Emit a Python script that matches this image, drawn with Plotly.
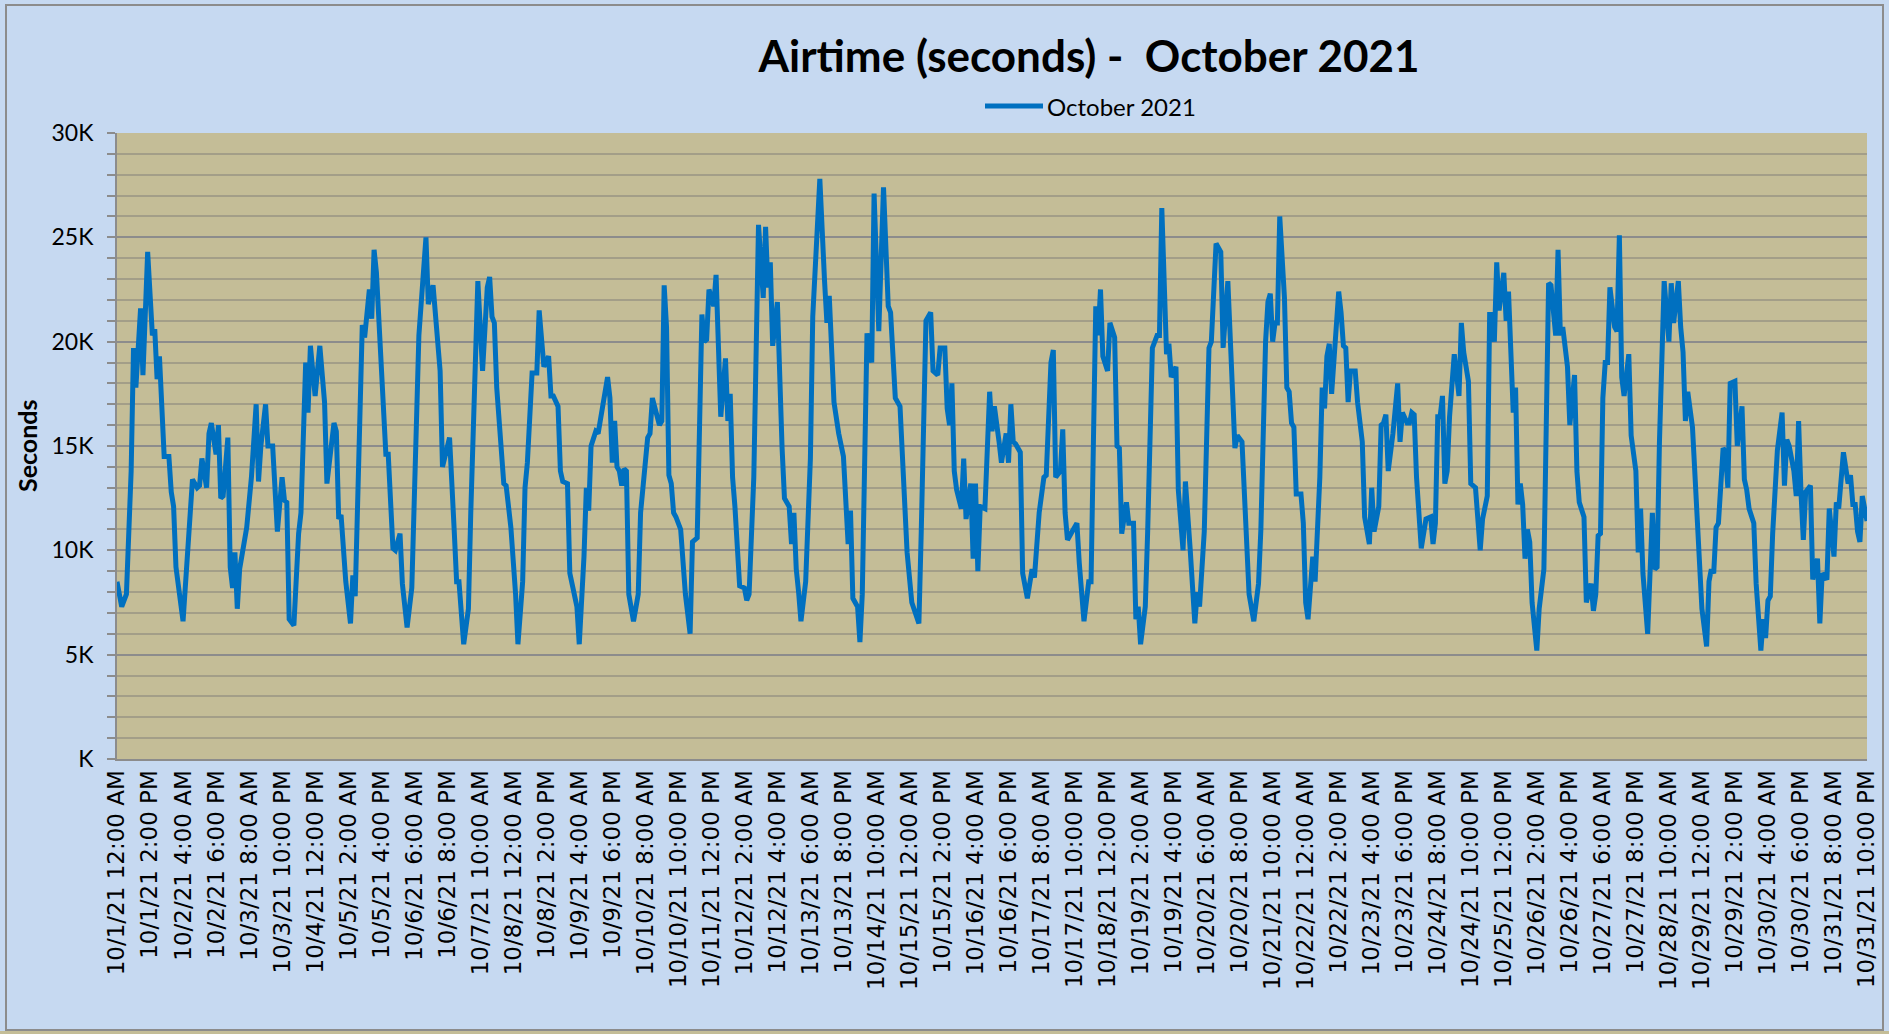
import plotly.graph_objects as go

# ---------------- data (hour offset from 10/1/21 12:00 AM, airtime in thousands of seconds) ----------------
hours = [
    0, 2, 4, 6, 7, 8, 10, 11, 13, 15, 16, 17, 18, 20, 22, 23,                       # 10/1
    24, 25, 28, 30, 32, 34, 35, 36, 38, 39, 40, 42, 43, 44, 45, 47,                 # 10/2
    48, 49, 50, 51, 52, 55, 57, 59, 60, 61, 63, 64, 66, 68, 70, 71,                 # 10/3
    72, 73, 75, 77, 78, 80, 81, 82, 84, 86, 88, 89, 90, 92, 93, 94, 95,             # 10/4
    97, 99, 100, 101, 104, 105, 107, 108, 109, 110, 114, 115, 117, 118,             # 10/5
    120, 121, 123, 125, 128, 131, 132, 134, 137, 138, 141, 143,                     # 10/6
    144, 145, 147, 149, 150, 153, 155, 157, 158, 159, 160, 161, 162, 163, 164, 165, 166, 167,  # 10/7
    169, 170, 172, 173, 174, 175, 176, 178, 179, 181, 183, 184, 185, 187, 188, 189, 191,       # 10/8
    192, 195, 196, 198, 199, 200, 201, 203, 204, 206, 208, 209, 210, 211, 212, 213, 214, 215,  # 10/9
    216, 217, 219, 221, 222, 225, 226, 227, 229, 230, 231, 232, 233, 234, 235, 236, 237, 239,  # 10/10
    241, 243, 244, 246, 248, 249, 250, 251, 253, 254, 256, 258, 259, 260, 261, 262,            # 10/11
    264, 266, 267, 268, 270, 272, 274, 275, 276, 277, 278, 280, 282, 283, 285, 286, 287,       # 10/12
    288, 289, 290, 292, 294, 295, 297, 298, 300, 301, 302, 304, 306, 308, 310, 311,            # 10/13
    312, 314, 315, 316, 318, 320, 321, 323, 325, 327, 328, 330, 332, 333, 335,                 # 10/14
    337, 340, 341, 343, 345, 346, 348, 349, 351, 352, 353, 354, 355, 356, 358, 359,            # 10/15
    360, 362, 363, 364, 365, 366, 368, 369, 370, 371, 372, 374, 375, 377, 378, 379, 380, 381, 383,  # 10/16
    384, 386, 388, 389, 391, 393, 394, 396, 397, 398, 400, 401, 402, 403, 405, 407,            # 10/17
    408, 409, 410, 412, 413, 414, 415, 416, 417, 418, 420, 421, 423, 424, 425, 426, 428, 429, 431,  # 10/18
    432, 433, 434, 436, 437, 439, 441, 442, 443, 445, 446, 447, 449, 450, 452, 453, 455,       # 10/19
    457, 458, 459, 461, 463, 464, 466, 468, 469, 471, 473, 474, 475, 477,                      # 10/20
    480, 482, 484, 485, 487, 488, 489, 490, 491, 492, 493, 495, 496, 497, 498, 499, 500, 502, 503,  # 10/21
    504, 505, 506, 507, 508, 510, 511, 512, 513, 514, 515, 516, 518, 519, 520, 521, 522, 523, 525, 526,  # 10/22
    528, 529, 530, 531, 532, 533, 535, 536, 537, 538, 539, 541, 543, 544, 545, 547, 548, 549, 550, 551,  # 10/23
    553, 554, 555, 557, 558, 559, 560, 561, 562, 563, 564, 565, 567, 569, 570, 571, 573, 574,  # 10/24
    576, 578, 579, 581, 582, 583, 584, 585, 586, 588, 589, 590, 592, 593, 594, 595, 596, 597, 598, 599,  # 10/25
    600, 602, 603, 605, 606, 607, 608, 610, 611, 612, 613, 615, 616, 618, 619, 620, 622, 623,  # 10/26
    625, 626, 627, 628, 629, 630, 631, 632, 633, 635, 636, 637, 638, 639, 641, 642, 644, 645, 646, 647,  # 10/27
    649, 651, 652, 653, 654, 656, 658, 659, 660, 662, 663, 664, 665, 666, 668, 670,            # 10/28
    672, 674, 675, 676, 677, 678, 679, 681, 682, 683, 684, 686, 687, 689, 690, 691, 692, 694, 695,  # 10/29
    697, 698, 699, 700, 701, 702, 704, 706, 707, 708, 709, 711, 712, 713, 714, 715, 716, 718, 719,  # 10/30
    721, 722, 723, 725, 726, 728, 729, 730, 731, 732, 734, 735, 736, 737, 738, 739, 740, 742,  # 10/31
]

airtime_k = [
    8.5, 7.3, 7.9, 13.8, 19.7, 17.8, 21.6, 18.4, 24.3, 20.3, 20.6, 18.2, 19.3, 14.5, 14.5, 12.8,
    12.1, 9.2, 6.6, 10.3, 13.4, 13.0, 13.1, 14.4, 13.0, 15.6, 16.1, 14.6, 16.0, 12.5, 12.6, 15.4,
    9.2, 8.2, 9.9, 7.2, 9.1, 11.1, 13.5, 17.0, 13.3, 15.0, 17.0, 15.0, 15.0, 10.9, 13.5, 12.4,
    12.3, 6.7, 6.4, 10.8, 11.8, 19.0, 16.6, 19.8, 17.4, 19.8, 17.1, 13.2, 14.2, 16.1, 15.7, 11.5, 11.7,
    8.5, 6.5, 8.8, 7.8, 20.8, 20.2, 22.5, 21.1, 24.4, 23.3, 14.6, 14.6, 10.1, 10.0,
    10.8, 8.4, 6.3, 8.2, 20.3, 25.0, 21.8, 22.7, 18.6, 14.0, 15.4, 10.9,
    8.5, 8.5, 5.5, 7.2, 11.8, 22.9, 18.6, 22.6, 23.1, 21.2, 20.9, 17.8, 16.1, 15.2, 13.2, 13.1, 11.9, 11.1,
    7.9, 5.5, 8.5, 13.0, 14.2, 16.4, 18.5, 18.5, 21.5, 18.8, 19.3, 17.4, 17.4, 16.9, 13.8, 13.3, 13.2,
    8.9, 7.3, 5.5, 9.7, 13.0, 11.9, 15.0, 15.7, 15.6, 16.9, 18.3, 17.3, 14.2, 16.2, 14.0, 13.8, 13.1, 13.9,
    13.8, 7.9, 6.6, 7.9, 11.8, 15.4, 15.6, 17.3, 16.5, 16.0, 16.2, 22.7, 20.7, 13.6, 13.2, 11.8, 11.6, 11.0,
    7.9, 6.0, 10.4, 10.6, 21.3, 20.0, 20.1, 22.5, 21.7, 23.2, 16.4, 19.2, 16.2, 17.5, 13.5, 12.1,
    8.3, 8.2, 7.6, 7.9, 13.5, 25.6, 22.1, 25.5, 22.6, 23.8, 19.8, 21.9, 14.9, 12.5, 12.1, 10.3, 11.8,
    9.1, 8.0, 6.6, 8.5, 14.4, 21.2, 25.5, 27.8, 22.9, 20.9, 22.2, 17.1, 15.6, 14.5, 10.3, 11.9,
    7.7, 7.3, 5.6, 7.9, 20.4, 19.0, 27.1, 20.5, 27.4, 21.7, 21.4, 17.3, 16.9, 14.2, 9.9,
    7.5, 6.5, 10.9, 21.0, 21.4, 18.6, 18.4, 19.7, 19.7, 16.8, 16.0, 18.0, 13.8, 12.9, 12.0, 14.4,
    11.5, 13.2, 9.6, 13.2, 9.0, 12.1, 12.0, 15.4, 17.6, 15.7, 16.9, 15.2, 14.2, 15.6, 14.2, 17.0, 15.2, 15.1, 14.7,
    8.9, 7.7, 9.1, 8.7, 11.8, 13.5, 13.6, 19.0, 19.6, 13.5, 13.8, 15.8, 11.8, 10.5, 10.9, 11.3,
    9.4, 7.9, 6.6, 8.5, 8.5, 15.2, 21.7, 20.3, 22.5, 19.3, 18.6, 20.9, 20.2, 15.0, 14.9, 10.8, 12.3, 11.3, 11.3,
    6.7, 7.3, 5.5, 7.3, 10.9, 19.7, 20.3, 20.3, 26.4, 19.4, 19.9, 18.3, 18.8, 12.9, 10.0, 13.3, 10.1,
    6.5, 8.0, 7.3, 10.9, 19.7, 20.0, 24.7, 24.3, 19.7, 22.9, 17.6, 14.9, 15.5, 15.2,
    7.9, 6.6, 8.4, 11.0, 20.0, 21.9, 22.3, 20.0, 20.9, 20.9, 26.0, 22.1, 17.8, 17.6, 16.1, 15.9, 12.7, 12.7, 11.3,
    7.5, 6.7, 8.5, 9.7, 8.5, 13.5, 17.8, 16.8, 19.3, 19.9, 17.5, 19.3, 22.4, 21.4, 19.8, 19.7, 17.1, 18.6, 18.6, 17.1,
    15.2, 11.6, 10.8, 10.3, 13.0, 10.9, 12.1, 16.0, 16.1, 16.5, 13.8, 15.6, 18.0, 15.2, 16.6, 16.1, 16.1, 16.6, 16.5, 13.5,
    10.1, 10.9, 11.5, 11.6, 10.3, 11.3, 16.4, 16.4, 17.4, 13.2, 13.8, 16.4, 19.4, 17.4, 20.9, 19.5, 18.1, 13.2,
    13.0, 10.0, 11.5, 12.6, 21.3, 21.3, 20.0, 23.8, 21.5, 23.3, 21.0, 22.4, 16.6, 17.8, 12.2, 13.2, 12.2, 9.6, 11.0, 10.4,
    7.5, 5.2, 7.2, 9.1, 14.7, 22.8, 22.7, 20.3, 24.4, 20.3, 20.7, 18.8, 16.0, 18.4, 13.8, 12.3, 11.6, 7.5,
    8.4, 7.1, 7.9, 10.7, 10.8, 17.3, 19.0, 19.0, 22.6, 20.7, 20.5, 25.1, 18.3, 17.4, 19.4, 15.5, 13.8, 9.9, 12.0, 8.9,
    6.0, 11.8, 9.1, 9.2, 15.2, 22.9, 20.0, 22.8, 20.9, 22.9, 20.7, 19.5, 16.2, 17.6, 15.9, 12.0,
    7.2, 5.4, 8.5, 9.1, 8.9, 11.1, 11.3, 14.9, 14.7, 13.0, 18.0, 18.1, 15.0, 16.9, 13.4, 12.9, 12.0, 11.3, 8.4,
    5.2, 6.7, 5.8, 7.6, 7.8, 10.8, 14.8, 16.6, 13.1, 15.3, 15.0, 13.8, 12.6, 16.2, 12.8, 10.5, 12.8, 13.1, 8.6,
    9.6, 6.5, 8.9, 8.6, 12.0, 9.7, 12.3, 12.0, 13.7, 14.7, 13.2, 13.6, 12.2, 12.2, 10.9, 10.4, 12.6, 11.4,
]

tick_hours = [14 * i for i in range(54)]
tick_labels = [
    "10/1/21 12:00 AM", "10/1/21 2:00 PM", "10/2/21 4:00 AM", "10/2/21 6:00 PM",
    "10/3/21 8:00 AM", "10/3/21 10:00 PM", "10/4/21 12:00 PM", "10/5/21 2:00 AM",
    "10/5/21 4:00 PM", "10/6/21 6:00 AM", "10/6/21 8:00 PM", "10/7/21 10:00 AM",
    "10/8/21 12:00 AM", "10/8/21 2:00 PM", "10/9/21 4:00 AM", "10/9/21 6:00 PM",
    "10/10/21 8:00 AM", "10/10/21 10:00 PM", "10/11/21 12:00 PM", "10/12/21 2:00 AM",
    "10/12/21 4:00 PM", "10/13/21 6:00 AM", "10/13/21 8:00 PM", "10/14/21 10:00 AM",
    "10/15/21 12:00 AM", "10/15/21 2:00 PM", "10/16/21 4:00 AM", "10/16/21 6:00 PM",
    "10/17/21 8:00 AM", "10/17/21 10:00 PM", "10/18/21 12:00 PM", "10/19/21 2:00 AM",
    "10/19/21 4:00 PM", "10/20/21 6:00 AM", "10/20/21 8:00 PM", "10/21/21 10:00 AM",
    "10/22/21 12:00 AM", "10/22/21 2:00 PM", "10/23/21 4:00 AM", "10/23/21 6:00 PM",
    "10/24/21 8:00 AM", "10/24/21 10:00 PM", "10/25/21 12:00 PM", "10/26/21 2:00 AM",
    "10/26/21 4:00 PM", "10/27/21 6:00 AM", "10/27/21 8:00 PM", "10/28/21 10:00 AM",
    "10/29/21 12:00 AM", "10/29/21 2:00 PM", "10/30/21 4:00 AM", "10/30/21 6:00 PM",
    "10/31/21 8:00 AM", "10/31/21 10:00 PM",
]

y_tick_values = [0, 5000, 10000, 15000, 20000, 25000, 30000]
y_tick_labels = ["K", "5K", "10K", "15K", "20K", "25K", "30K"]

series_name = "October 2021"

assert len(hours) == len(airtime_k)

# ---------------- figure ----------------
W, H = 1889, 1034
PL, PR, PT, PB = 117, 1867, 133, 759          # plot-area pixel box
PW, PH = PR - PL, PB - PT
LINE_COLOR = "#0070C0"


def px(x):
    return (x - PL) / PW


def py(y):
    return (PB - y) / PH


fig = go.Figure(
    go.Scatter(
        x=hours,
        y=[v * 1000 for v in airtime_k],
        mode="lines",
        name=series_name,
        line=dict(color=LINE_COLOR, width=5),
        showlegend=False,
    )
)

fig.update_layout(
    width=W, height=H, autosize=False,
    margin=dict(l=PL, r=W - PR, t=PT, b=H - PB, pad=0, autoexpand=False),
    paper_bgcolor="#C6D9F1",
    plot_bgcolor="#C4BD97",
    title=dict(
        text="<b>Airtime (seconds) -&nbsp; October 2021</b>",
        xref="container", yref="container",
        x=1089 / W, y=1 - 57 / H, xanchor="center", yanchor="middle",
        font=dict(family="Lato", size=44, color="black"),
    ),
    xaxis=dict(
        range=[0, 742],
        tickmode="array", tickvals=tick_hours, ticktext=tick_labels,
        tickangle=-90,
        tickfont=dict(family="DejaVu Sans", size=23, color="black"),
        showgrid=False, zeroline=False,
        showline=True, linecolor="#8C8C8C", linewidth=2,
        ticks="",
    ),
    yaxis=dict(
        range=[0, 30000],
        tickmode="array", tickvals=y_tick_values, ticktext=y_tick_labels,
        tickfont=dict(family="Lato", size=23, color="black"),
        ticks="outside", ticklen=8, tickwidth=2, tickcolor="#8C8C8C",
        ticklabelstandoff=9,
        showgrid=True, gridcolor="#8C8C8C", gridwidth=2,
        zeroline=False,
        showline=True, linecolor="#8C8C8C", linewidth=2,
        minor=dict(
            tickmode="linear", tick0=0, dtick=1000,
            ticks="outside", ticklen=8, tickwidth=2, tickcolor="#8C8C8C",
            showgrid=True, gridcolor="#A39E88", gridwidth=2,
        ),
    ),
    annotations=[
        dict(
            text="<b>Seconds</b>", textangle=-90,
            xref="paper", yref="paper", x=px(27), y=py(446),
            xanchor="center", yanchor="middle", showarrow=False,
            font=dict(family="Lato", size=25, color="black"),
        ),
        # legend text
        dict(
            text=series_name,
            xref="paper", yref="paper", x=px(1045), y=py(106),
            xanchor="left", yanchor="middle", showarrow=False,
            font=dict(family="Lato", size=24, color="black"),
        ),
    ],
    shapes=[
        # outer chart border
        dict(type="rect", xref="paper", yref="paper",
             x0=px(6), x1=px(1883), y0=py(1030), y1=py(5),
             line=dict(color="#8C8C8C", width=2), fillcolor="rgba(0,0,0,0)", layer="below"),
        # strip below the chart frame
        dict(type="rect", xref="paper", yref="paper",
             x0=px(0), x1=px(1889), y0=py(1034), y1=py(1031),
             line=dict(width=0), fillcolor="#C4BD97", layer="below"),
        # legend key line
        dict(type="line", xref="paper", yref="paper",
             x0=px(985), x1=px(1043), y0=py(106), y1=py(106),
             line=dict(color=LINE_COLOR, width=5)),
    ],
)

fig.write_html(
    "out.html",
    config={"displayModeBar": False},
    post_script="document.body.style.margin='0';document.body.style.overflow='hidden';",
)
